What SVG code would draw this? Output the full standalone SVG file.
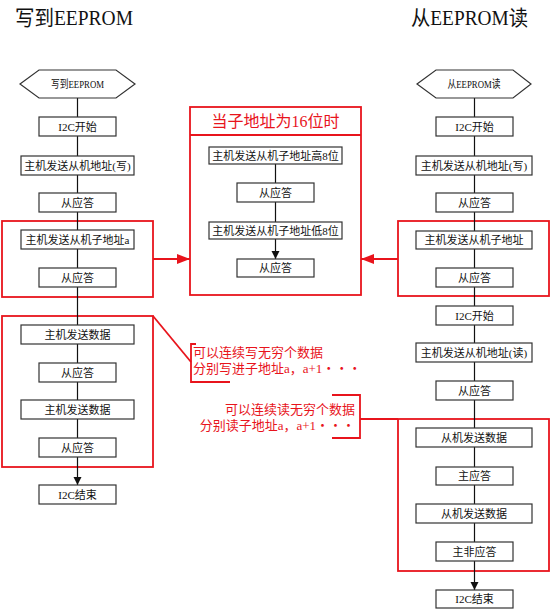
<svg xmlns="http://www.w3.org/2000/svg" width="551" height="609" viewBox="0 0 551 609">
<defs>
<style>
text{font-family:"Liberation Serif","Noto Sans CJK SC",serif;text-anchor:middle;fill:#111}
.t{font-size:11px}
.h{font-size:11px}
.title{font-size:21px}
.rt{fill:#e8141c}
.box{fill:#fff;stroke:#333;stroke-width:1.2}
.red{fill:none;stroke:#e8141c;stroke-width:1.8}
.c{fill:none;stroke:#111;stroke-width:1.2}
.rc{fill:none;stroke:#e8141c;stroke-width:1.8}
</style>
<marker id="ah" markerUnits="userSpaceOnUse" markerWidth="8" markerHeight="9" refX="8" refY="4" orient="auto" viewBox="0 0 8 8"><path d="M0,0L8,4L0,8z" fill="#111"/></marker>
<marker id="rh" markerUnits="userSpaceOnUse" markerWidth="13" markerHeight="10" refX="13" refY="5" orient="auto" viewBox="0 0 13 10"><path d="M0,0L13,5L0,10z" fill="#e8141c"/></marker>
</defs>
<rect width="551" height="609" fill="#fff"/>

<text class="title" x="74" y="25" textLength="118" lengthAdjust="spacingAndGlyphs">写到EEPROM</text>
<text class="title" x="469.5" y="25" textLength="117" lengthAdjust="spacingAndGlyphs">从EEPROM读</text>

<g id="redgroups">
<rect class="red" x="2" y="221" width="151" height="76"/>
<rect class="red" x="2" y="316" width="151" height="151"/>
<rect class="red" x="398" y="221" width="151" height="75"/>
<rect class="red" x="398" y="419" width="151" height="152"/>
</g>

<g id="center16">
<rect class="red" x="190" y="107" width="171" height="188"/>
<line class="red" x1="190" y1="135" x2="361" y2="135"/>
<text class="rt" x="275.5" y="127" style="font-size:16px">当子地址为16位时</text>
</g>

<g id="connectors">
<path class="c" marker-end="url(#ah)" d="M77.5,98V117M77.5,136V156M77.5,175V193M77.5,212V230M77.5,249V268M77.5,287V325M77.5,344V363M77.5,382V400M77.5,419V438M77.5,457V485"/>
<path class="c" marker-end="url(#ah)" d="M474.5,98V117M474.5,136V156M474.5,175V193M474.5,212V231M474.5,249V268M474.5,287V306M474.5,325V343M474.5,362V381M474.5,400V428M474.5,447V467M474.5,485V504M474.5,523V542M474.5,561V590"/>
<path class="c" marker-end="url(#ah)" d="M275.5,164V183M275.5,202V222M275.5,239V259"/>
<line class="rc" x1="153" y1="259" x2="190" y2="259" marker-end="url(#rh)"/>
<line class="rc" x1="398" y1="259" x2="361" y2="259" marker-end="url(#rh)"/>
<path class="rc" d="M153,316L191,362"/>
<path class="rc" d="M196,344H191V382H230"/>
<path class="rc" d="M332,395H360V438H332M360,419H398"/>
</g>

<g id="note-write">
<text class="rt" x="193" y="357" style="font-size:13px;text-anchor:start">可以连续写无穷个数据</text>
<text class="rt" x="193" y="373" style="font-size:13px;text-anchor:start">分别写进子地址a，a+1・・・</text>
</g>
<g id="note-read">
<text class="rt" x="355" y="414" style="font-size:13px;text-anchor:end">可以连续读无穷个数据</text>
<text class="rt" x="355" y="430" style="font-size:13px;text-anchor:end">分别读子地址a，a+1・・・</text>
</g>

<g id="w0"><polygon class="box" points="20,84 39,70 116,70 135,84 116,98 39,98"/><text class="h" x="77.5" y="88" textLength="53" lengthAdjust="spacingAndGlyphs">写到EEPROM</text></g>
<g id="w1"><rect class="box" x="39" y="117" width="77" height="19"/><text class="t" x="77.5" y="130.5">I2C开始</text></g>
<g id="w2"><rect class="box" x="21" y="156" width="113" height="19"/><text class="t" x="77.5" y="169.5">主机发送从机地址(写)</text></g>
<g id="w3"><rect class="box" x="39" y="193" width="77" height="19"/><text class="t" x="77.5" y="206.5">从应答</text></g>
<g id="w4"><rect class="box" x="21" y="230" width="113" height="19"/><text class="t" x="77.5" y="243.5">主机发送从机子地址a</text></g>
<g id="w5"><rect class="box" x="39" y="268" width="77" height="19"/><text class="t" x="77.5" y="281.5">从应答</text></g>
<g id="w6"><rect class="box" x="21" y="325" width="113" height="19"/><text class="t" x="77.5" y="338.5">主机发送数据</text></g>
<g id="w7"><rect class="box" x="39" y="363" width="77" height="19"/><text class="t" x="77.5" y="376.5">从应答</text></g>
<g id="w8"><rect class="box" x="21" y="400" width="113" height="19"/><text class="t" x="77.5" y="413.5">主机发送数据</text></g>
<g id="w9"><rect class="box" x="39" y="438" width="77" height="19"/><text class="t" x="77.5" y="451.5">从应答</text></g>
<g id="w10"><rect class="box" x="39" y="485" width="77" height="19"/><text class="t" x="77.5" y="498.5">I2C结束</text></g>

<g id="c1"><rect class="box" x="209" y="147" width="133" height="17"/><text class="t" x="275.5" y="159.5">主机发送从机子地址高8位</text></g>
<g id="c2"><rect class="box" x="237" y="183" width="77" height="19"/><text class="t" x="275.5" y="196.5">从应答</text></g>
<g id="c3"><rect class="box" x="209" y="222" width="133" height="17"/><text class="t" x="275.5" y="234.5">主机发送从机子地址低8位</text></g>
<g id="c4"><rect class="box" x="237" y="259" width="77" height="18"/><text class="t" x="275.5" y="272">从应答</text></g>

<g id="r0"><polygon class="box" points="417,84 436,70 513,70 531,84 513,98 436,98"/><text class="h" x="474" y="88" textLength="53" lengthAdjust="spacingAndGlyphs">从EEPROM读</text></g>
<g id="r1"><rect class="box" x="436" y="117" width="77" height="19"/><text class="t" x="474.5" y="130.5">I2C开始</text></g>
<g id="r2"><rect class="box" x="416" y="156" width="116" height="19"/><text class="t" x="474" y="169.5">主机发送从机地址(写)</text></g>
<g id="r3"><rect class="box" x="436" y="193" width="77" height="19"/><text class="t" x="474.5" y="206.5">从应答</text></g>
<g id="r4"><rect class="box" x="416" y="231" width="116" height="18"/><text class="t" x="474" y="244">主机发送从机子地址</text></g>
<g id="r5"><rect class="box" x="436" y="268" width="77" height="19"/><text class="t" x="474.5" y="281.5">从应答</text></g>
<g id="r6"><rect class="box" x="436" y="306" width="77" height="19"/><text class="t" x="474.5" y="319.5">I2C开始</text></g>
<g id="r7"><rect class="box" x="416" y="343" width="116" height="19"/><text class="t" x="474" y="356.5">主机发送从机地址(读)</text></g>
<g id="r8"><rect class="box" x="436" y="381" width="77" height="19"/><text class="t" x="474.5" y="394.5">从应答</text></g>
<g id="r9"><rect class="box" x="416" y="428" width="116" height="19"/><text class="t" x="474" y="441.5">从机发送数据</text></g>
<g id="r10"><rect class="box" x="436" y="467" width="77" height="18"/><text class="t" x="474.5" y="480">主应答</text></g>
<g id="r11"><rect class="box" x="416" y="504" width="116" height="19"/><text class="t" x="474" y="517.5">从机发送数据</text></g>
<g id="r12"><rect class="box" x="436" y="542" width="77" height="19"/><text class="t" x="474.5" y="555.5">主非应答</text></g>
<g id="r13"><rect class="box" x="436" y="590" width="77" height="18"/><text class="t" x="474.5" y="603">I2C结束</text></g>
</svg>
